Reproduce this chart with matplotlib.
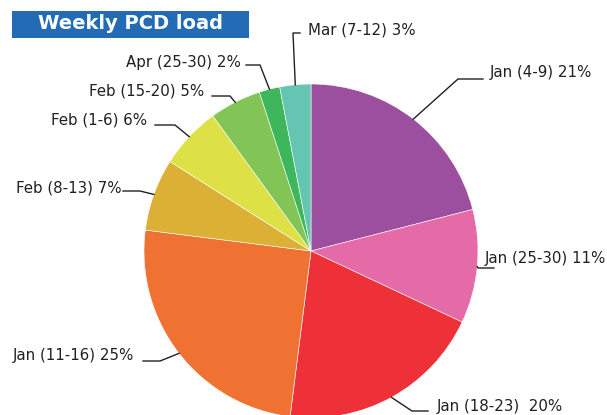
import numpy as np
import matplotlib
matplotlib.use("Agg")
import matplotlib.pyplot as plt
from matplotlib.patches import Rectangle

# slices, clockwise from 12 o'clock
labels = ["Jan (4-9) 21%", "Jan (25-30) 11%", "Jan (18-23)  20%", "Jan (11-16) 25%",
          "Feb (8-13) 7%", "Feb (1-6) 6%", "Feb (15-20) 5%", "Apr (25-30) 2%", "Mar (7-12) 3%"]
shares = [21, 11, 20, 25, 7, 6, 5, 2, 3]
colors = ["#9d4f9f", "#e56aa8", "#ee3139", "#f07233", "#dcb035",
          "#dde146", "#83c457", "#3eb65b", "#64c6b2"]

# layout in pixel coords (y down): elbow point, line end, text start
elbows = [(458, 79), (478, 268), (412, 411), (160, 361), (140, 191),
          (175, 125), (230, 96), (260, 65), (293, 33)]
ends = [(483, 79), (494, 268), (428, 411), (143, 361), (123, 191),
        (155, 125), (212, 96), (246, 65), (300, 33)]
text_pos = [(490, 73, "left"), (485, 258, "left"), (437, 406, "left"), (134, 355, "right"),
            (122, 188, "right"), (147, 120, "right"), (204, 91, "right"), (241, 62, "right"),
            (308, 30, "left")]

cx, cy, r = 311, 251, 167
ink = "#231f20"

fig = plt.figure(figsize=(6.07, 4.15), dpi=100)
ax = fig.add_axes([0, 0, 1, 1])

wedges, _ = ax.pie(shares, colors=colors, center=(cx, cy), radius=r,
                   startangle=-90, counterclock=True,
                   wedgeprops=dict(edgecolor="white", linewidth=0.4))

for w, el, en, (tx, ty, ha), lab in zip(wedges, elbows, ends, text_pos, labels):
    mid = np.deg2rad((w.theta1 + w.theta2) / 2)
    ax_x = cx + r * np.cos(mid)
    ax_y = cy + r * np.sin(mid)
    ax.plot([ax_x, el[0], en[0]], [ax_y, el[1], en[1]], color=ink, lw=1.0,
            solid_joinstyle="miter")
    ax.text(tx, ty, lab, ha=ha, va="center", fontsize=10.8, color=ink)

# title box
ax.add_patch(Rectangle((12, 11), 237, 27, facecolor="#236bb5", edgecolor="none"))
ax.text(130, 23.5, "Weekly PCD load", ha="center", va="center", fontsize=14,
        fontweight="bold", color="white")

ax.set_xlim(0, 607)
ax.set_ylim(415, 0)
ax.set_aspect("equal")
ax.axis("off")

fig.savefig("out.png", dpi=100)
